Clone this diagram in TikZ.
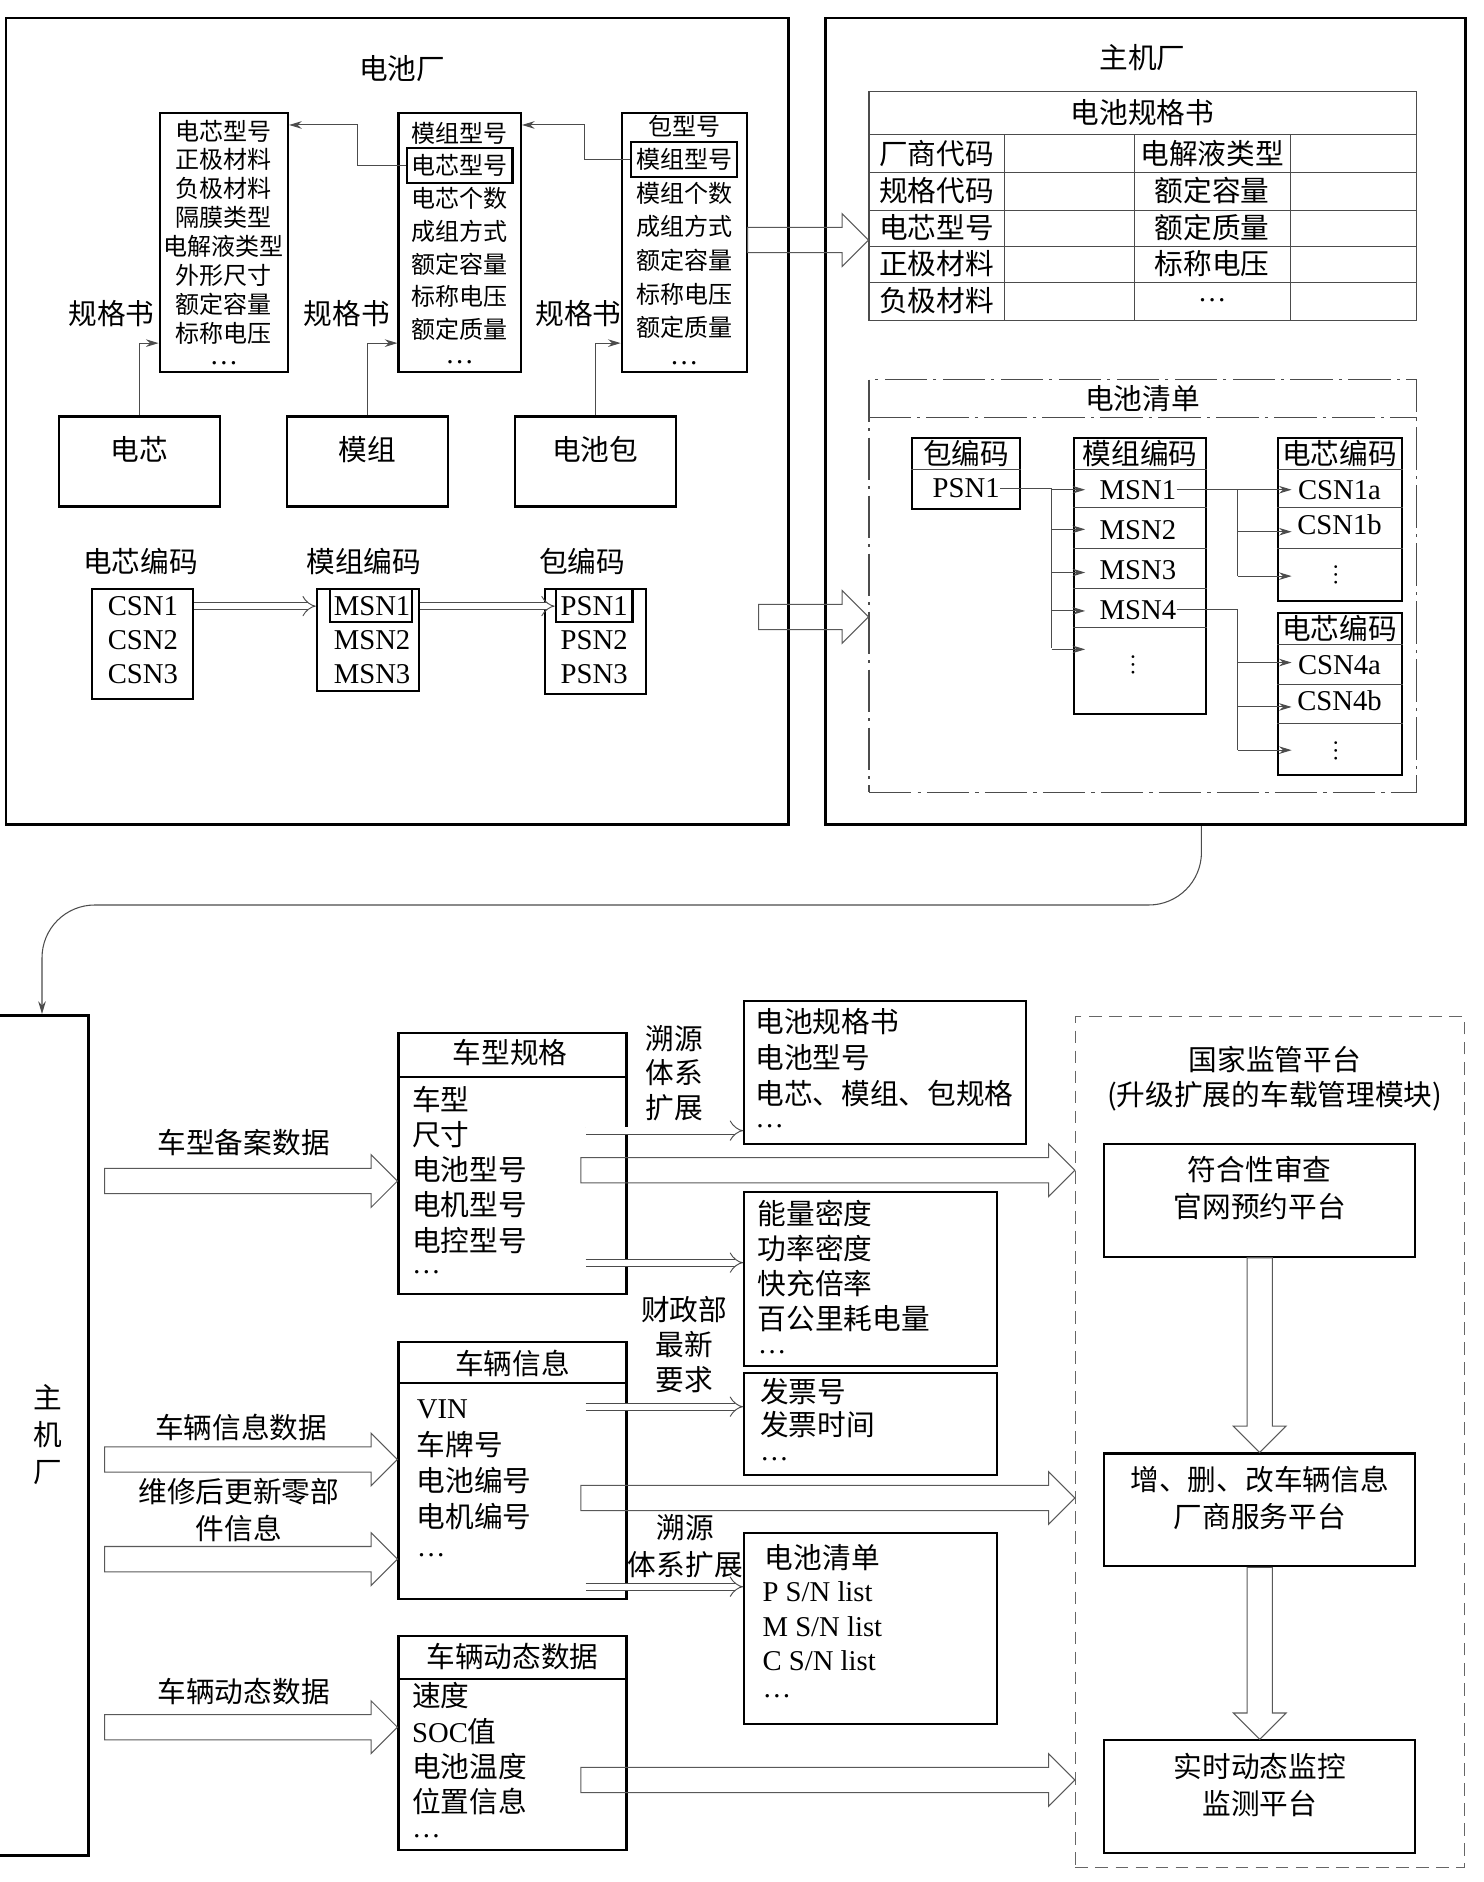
\documentclass[tikz,border=0pt]{standalone}
\usepackage{fontspec}
\setmainfont{Noto Sans CJK SC}
\newfontfamily\lat{Liberation Serif}
\usetikzlibrary{arrows.meta,calc,fit}

\newcommand\fatarrow[2]{%
  \draw[fat] let \p1=#1, \p2=#2, \n1={atan2(\y2-\y1,\x2-\x1)},
    \n2={veclen(\x2-\x1,\y2-\y1)} in [shift={(\p1)},rotate=\n1]
    (0pt,-6pt) -- (\n2-12.5pt,-6pt) -- (\n2-12.5pt,-12.5pt) -- (\n2,0pt)
    -- (\n2-12.5pt,12.5pt) -- (\n2-12.5pt,6pt) -- (0pt,6pt) -- cycle;}

\begin{document}
\begin{tikzpicture}[x=0.02cm,y=-0.02cm,
  box/.style={draw,line width=1pt,inner sep=0pt,align=center,font=\fontsize{13.6}{17.6}\selectfont},
  frame/.style={draw,line width=1.4pt,inner sep=0pt},
  wire/.style={draw=black!70,line width=0.5pt},
  tip/.style={-{Stealth[length=6pt,width=3.6pt]}},
  dbl/.style={draw=black!70,line width=0.45pt,double,double distance=3pt,-{Implies}},
  fat/.style={draw=black!65,line width=0.5pt},
  dashdot/.style={dash pattern=on 20pt off 3pt on 1.5pt off 3pt},
  lab/.style={inner sep=0pt,align=center,font=\fontsize{13.6}{17.6}\selectfont},
  sml/.style={inner sep=0pt,font=\fontsize{11.4}{13}\selectfont},
  item/.style={lab,anchor=west},
  sn/.style={inner sep=0pt,font=\lat\fontsize{13.6}{16}\selectfont},
  dots/.style={inner sep=0pt,font=\lat\fontsize{13.6}{16}\selectfont},
  vdots/.style={inner sep=0pt,rotate=90,font=\lat\fontsize{11}{13}\selectfont}]
\useasboundingbox (0,0) rectangle (1236,1568);

\node[frame,fit={(5,15) (657,687)}] (bfac) {};
\node[lab] (bfact) at (335,57) {电池厂};
\node[box,fit={(133,94) (240,310)}] (cspec) {};
\node[box,fit={(332,94) (434,310)}] (mspec) {};
\node[box,fit={(518,94) (622,310)}] (pspec) {};
\foreach \t [count=\i] in {电芯型号,正极材料,负极材料,隔膜类型,电解液类型,外形尺寸,额定容量,标称电压}
  \node[sml] (cs\i) at (186.5,{85+24.1*\i}) {\t};
\foreach \t [count=\i] in {模组型号,电芯型号,电芯个数,成组方式,额定容量,标称电压,额定质量}
  \node[sml] (ms\i) at (383,{83.4+27.3*\i}) {\t};
\foreach \t [count=\i] in {包型号,模组型号,模组个数,成组方式,额定容量,标称电压,额定质量}
  \node[sml] (ps\i) at (570,{77+28*\i}) {\t};
\node[dots] (csd) at (186.5,303) {…};
\node[dots] (msd) at (383,302) {…};
\node[dots] (psd) at (570,303) {…};
\node[box,minimum width=1.76cm,minimum height=0.58cm] (mcell) at (ms2) {};
\node[box,minimum width=1.76cm,minimum height=0.58cm] (pmod) at (ps2) {};
\draw[wire,tip] (mcell.west) -- ++(-40,0) |- ($(cspec.north east)+(0,11)$);
\draw[wire,tip] (pmod.west) -- ++(-38,0) |- ($(mspec.north east)+(0,11)$);

\node[box,fit={(49,347) (183,422)}] (cell) {电芯};
\node[box,fit={(239,347) (373,422)}] (module) {模组};
\node[box,fit={(429,347) (563,422)}] (pack) {电池包};
\foreach \x [count=\i] in {93,289,482}
  \node[lab] (gg\i) at (\x,261) {规格书};
\draw[wire,tip] (cell.north) |- ($(cspec.south west)+(0,-25)$);
\draw[wire,tip] (module.north) |- ($(mspec.south west)+(0,-25)$);
\draw[wire,tip] (pack.north) |- ($(pspec.south west)+(0,-25)$);

\node[lab] (csnt) at (117,468) {电芯编码};
\node[lab] (msnt) at (303,468) {模组编码};
\node[lab] (psnt) at (485,468) {包编码};
\node[box,fit={(77,491) (161,582)}] (csnb) {};
\node[box,fit={(264,491) (349,576)}] (msnb) {};
\node[box,fit={(454,491) (538,578)}] (psnb) {};
\foreach \y [count=\i] in {505,533,562} {
  \node[sn] (csn\i) at (119,\y) {CSN\i};
  \node[sn] (msn\i) at (310,\y) {MSN\i};
  \node[sn] (psn\i) at (495,\y) {PSN\i};
}
\node[box,fit={(275,491) (343,518)}] (msn1b) {};
\node[box,fit={(463,491) (527,518)}] (psn1b) {};
\draw[dbl] (csn1 -| csnb.east) -- (csn1 -| msnb.west);
\draw[dbl] (msn1 -| msnb.east) -- (msn1 -| psn1b.west);

\node[frame,fit={(688,15) (1221,687)}] (oemA) {};
\node[lab] (oemAt) at (952,48) {主机厂};
\node[wire,inner sep=0pt,fit={(724,76) (1180,267)}] (bspec) {};
\node[lab] (bspect) at (952,94) {电池规格书};
\foreach \y in {112,144,175,205,235}
  \draw[wire] (bspec.west |- 0,\y) -- (bspec.east |- 0,\y);
\foreach \x in {837,945,1075}
  \draw[wire] (\x,112) -- (bspec.south -| \x,0);
\foreach \a/\b [count=\i] in {厂商代码/电解液类型,规格代码/额定容量,电芯型号/额定质量,正极材料/标称电压,负极材料/{\lat …}} {
  \node[item] (bl\i) at (732,{97.5+30.6*\i}) {\a};
  \node[lab] (br\i) at (1010,{97.5+30.6*\i}) {\b};
}
\fatarrow{(pspec.east |- 0,200)}{(bspec.west |- 0,200)}

\node[wire,dashdot,inner sep=0pt,fit={(724,316) (1180,660)}] (blist) {};
\node[lab] (blistt) at (952,332) {电池清单};
\draw[wire,dashdot] (blist.west |- 0,348) -- (blist.east |- 0,348);
\coordinate (snout) at (632,514);
\fatarrow{(snout)}{(blist.west |- snout)}

\node[box,fit={(760,365) (850,424)}] (pcb) {};
\draw[wire] (pcb.west |- 0,391) -- (pcb.east |- 0,391);
\node[lab] (pcbt) at (805,378) {包编码};
\node[sn] (psnA) at (805,407) {PSN1};
\node[box,fit={(895,365) (1005,595)}] (mcb) {};
\foreach \y in {391,423,457,490,523}
  \draw[wire] (mcb.west |- 0,\y) -- (mcb.east |- 0,\y);
\node[lab] (mcbt) at (950,378) {模组编码};
\foreach \y [count=\i] in {408,442,475,508}
  \node[sn] (msnA\i) at (948,\y) {MSN\i};
\node[vdots] (mvd) at (944,554) {…};
\node[box,fit={(1065,365) (1168,501)}] (ccb1) {};
\node[box,fit={(1065,511) (1168,646)}] (ccb4) {};
\foreach \y in {391,423,457}
  \draw[wire] (ccb1.west |- 0,\y) -- (ccb1.east |- 0,\y);
\foreach \y in {537,570,603}
  \draw[wire] (ccb4.west |- 0,\y) -- (ccb4.east |- 0,\y);
\node[lab] (ccb1t) at (1116,378) {电芯编码};
\node[lab] (ccb4t) at (1116,524) {电芯编码};
\node[sn] (c1a) at (1116,408) {CSN1a};
\node[sn] (c1b) at (1116,437) {CSN1b};
\node[vdots] (c1d) at (1113,479) {…};
\node[sn] (c4a) at (1116,554) {CSN4a};
\node[sn] (c4b) at (1116,584) {CSN4b};
\node[vdots] (c4d) at (1113,626) {…};
\draw[wire] (psnA.east) -- ++(43,0) coordinate (pbus) -- ++(0,133);
\foreach \y in {408,441,477,509,541}
  \draw[wire,tip] (pbus |- 0,\y) -- ($(mcb.west |- 0,\y)+(10,0)$);
\draw[wire] (msnA1.east) -- ++(51,0) coordinate (m1bus) -- ++(0,72);
\foreach \y in {408,443,480}
  \draw[wire,tip] (m1bus |- 0,\y) -- ($(ccb1.west |- 0,\y)+(12,0)$);
\draw[wire] (msnA4.east) -- ++(51,0) coordinate (m4bus) -- ++(0,117);
\foreach \y in {552,589,625}
  \draw[wire,tip] (m4bus |- 0,\y) -- ($(ccb4.west |- 0,\y)+(12,0)$);

\node[frame,fit={(-20,846) (74,1546)}] (oemB) {};
\node[lab] (oemBt) at (40,1195) {主\\机\\厂};
\draw[wire,tip,rounded corners=25] (oemA.south -| 1001,0) |- (35,754) -- (oemB.north -| 35,0);

\node[box,fit={(332,861) (522,1078)}] (vspec) {};
\draw[box] (vspec.west |- 0,897) -- (vspec.east |- 0,897);
\node[lab] (vspect) at (425,877) {车型规格};
\foreach \t [count=\i] in {车型,尺寸,电池型号,电机型号,电控型号}
  \node[item] (vs\i) at (343,{886.7+29.3*\i}) {\t};
\node[dots,anchor=west] (vsd) at (343,1060) {…};
\node[box,fit={(332,1118) (522,1332)}] (vinfo) {};
\draw[box] (vinfo.west |- 0,1152) -- (vinfo.east |- 0,1152);
\node[lab] (vinfot) at (427,1136) {车辆信息};
\foreach \t [count=\i] in {{\lat VIN},车牌号,电池编号,电机编号}
  \node[item] (vi\i) at (347,{1144.3+29.7*\i}) {\t};
\node[dots,anchor=west] (vid) at (347,1296) {…};
\node[box,fit={(332,1363) (522,1541)}] (vdyn) {};
\draw[box] (vdyn.west |- 0,1399) -- (vdyn.east |- 0,1399);
\node[lab] (vdynt) at (427,1380) {车辆动态数据};
\foreach \t [count=\i] in {速度,{\lat SOC}值,电池温度,位置信息}
  \node[item] (vd\i) at (343,{1383.7+29.3*\i}) {\t};
\node[dots,anchor=west] (vdd) at (343,1530) {…};

\node[lab] (in1) at (203,952) {车型备案数据};
\node[lab] (in2) at (201,1189) {车辆信息数据};
\node[lab] (in3) at (199,1258) {维修后更新零部\\件信息};
\node[lab] (in4) at (203,1409) {车辆动态数据};
\fatarrow{($(oemB.east |- 0,984)+(12,0)$)}{(vspec.west |- 0,984)}
\fatarrow{($(oemB.east |- 0,1216)+(12,0)$)}{(vinfo.west |- 0,1216)}
\fatarrow{($(oemB.east |- 0,1299)+(12,0)$)}{(vinfo.west |- 0,1299)}
\fatarrow{($(oemB.east |- 0,1439)+(12,0)$)}{(vdyn.west |- 0,1439)}

\node[box,fit={(620,834) (855,953)}] (book) {};
\foreach \t [count=\i] in {电池规格书,电池型号,电芯、模组、包规格}
  \node[item] (bk\i) at (629,{821+30*\i}) {\t};
\node[dots,anchor=west] (bkd) at (629,938) {…};
\node[box,fit={(620,993) (831,1138)}] (perf) {};
\foreach \t [count=\i] in {能量密度,功率密度,快充倍率,百公里耗电量}
  \node[item] (pf\i) at (631,{981.7+29.3*\i}) {\t};
\node[dots,anchor=west] (pfd) at (631,1127) {…};
\node[box,fit={(620,1144) (831,1229)}] (inv) {};
\node[item] (iv1) at (633,1159) {发票号};
\node[item] (iv2) at (633,1187) {发票时间};
\node[dots,anchor=west] (ivd) at (633,1216) {…};
\node[box,fit={(620,1277) (831,1436)}] (snlist) {};
\node[item] (sl0) at (637,1298) {电池清单};
\foreach \t [count=\i] in {P S/N list,M S/N list,C S/N list}
  \node[sn,anchor=west] (sl\i) at (635,{1297+29*\i}) {\t};
\node[dots,anchor=west] (sld) at (635,1413) {…};

\node[lab,font=\fontsize{13.6}{16.5}\selectfont] (ext1) at (562,894) {溯源\\体系\\扩展};
\node[lab,font=\fontsize{13.6}{16.5}\selectfont] (mof) at (570,1120) {财政部\\最新\\要求};
\node[lab] (ext2) at (571,1288) {溯源\\体系扩展};
\draw[dbl] ($(vspec.east |- 0,942)+(-35,0)$) -- (book.west |- 0,942);
\draw[dbl] ($(vspec.east |- 0,1052)+(-35,0)$) -- (perf.west |- 0,1052);
\draw[dbl] ($(vinfo.east |- 0,1172)+(-35,0)$) -- (inv.west |- 0,1172);
\draw[dbl] ($(vinfo.east |- 0,1322)+(-35,0)$) -- (snlist.west |- 0,1322);

\node[draw=black!60,line width=0.5pt,dash pattern=on 6pt off 3.5pt,inner sep=0pt,fit={(896,847) (1220,1556)}] (gov) {};
\node[lab,font=\fontsize{13.6}{16.5}\selectfont] (govt) at (1062,898.5) {国家监管平台\\(升级扩展的车载管理模块)};
\node[box,fit={(920,953) (1179,1047)}] (audit) {符合性审查\\官网预约平台};
\node[box,fit={(920,1211) (1179,1305)}] (svc) {增、删、改车辆信息\\厂商服务平台};
\node[box,fit={(920,1450) (1179,1544)}] (mon) {实时动态监控\\监测平台};
\fatarrow{($(vspec.east |- 0,975)+(-39,0)$)}{(gov.west |- 0,975)}
\fatarrow{($(vinfo.east |- 0,1248)+(-39,0)$)}{(gov.west |- 0,1248)}
\fatarrow{($(vdyn.east |- 0,1483)+(-39,0)$)}{(gov.west |- 0,1483)}
\fatarrow{(audit.south)}{(svc.north)}
\fatarrow{(svc.south)}{(mon.north)}
\end{tikzpicture}
\end{document}
